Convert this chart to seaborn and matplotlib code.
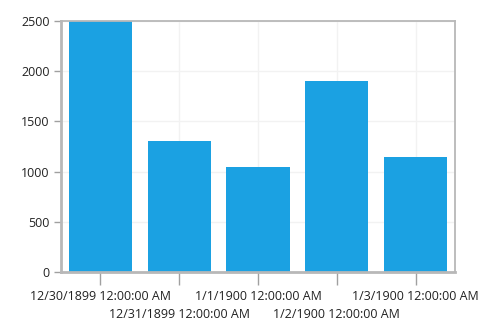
import pandas as pd
import matplotlib.pyplot as plt
import seaborn as sns

dates = ['12/30/1899 12:00:00 AM', '12/31/1899 12:00:00 AM', '1/1/1900 12:00:00 AM',
         '1/2/1900 12:00:00 AM', '1/3/1900 12:00:00 AM']
values = [2500, 1300, 1050, 1900, 1150]

df = pd.DataFrame({'date': dates, 'value': values})

sns.set_theme(style='white')
plt.rcParams['font.family'] = ['Open Sans', 'DejaVu Sans']

fig = plt.figure(figsize=(4.9, 3.35), dpi=100)
ax = fig.add_axes([61 / 490, 1 - 272 / 335, 394 / 490, 251 / 335])

sns.barplot(data=df, x='date', y='value', color='#1BA1E2', saturation=1,
            width=0.8, linewidth=0, ax=ax, zorder=2)

ax.set_xlim(-0.5, 4.5)
ax.set_ylim(0, 2500)
ax.set_yticks(range(0, 2501, 500))
ax.set_xlabel('')
ax.set_ylabel('')

ax.grid(True, color='#f2f2f2', linewidth=1, zorder=0)
ax.set_axisbelow(True)

for s in ax.spines.values():
    s.set_visible(True)
    s.set_color('#b8b8b8')
    s.set_linewidth(1.3)
ax.spines['left'].set_linewidth(2)
ax.spines['bottom'].set_linewidth(2)

ax.tick_params(axis='y', length=5, width=1, color='#a0a0a0', labelsize=9,
               labelcolor='#222222', pad=3, left=True)
ax.tick_params(axis='x', length=9, width=1, color='#a0a0a0', labelsize=9,
               labelcolor='#222222', pad=4, bottom=True)

for i, t in enumerate(ax.xaxis.get_major_ticks()):
    if i % 2 == 1:
        t.set_pad(17)

fig.savefig('out.png', dpi=100)
